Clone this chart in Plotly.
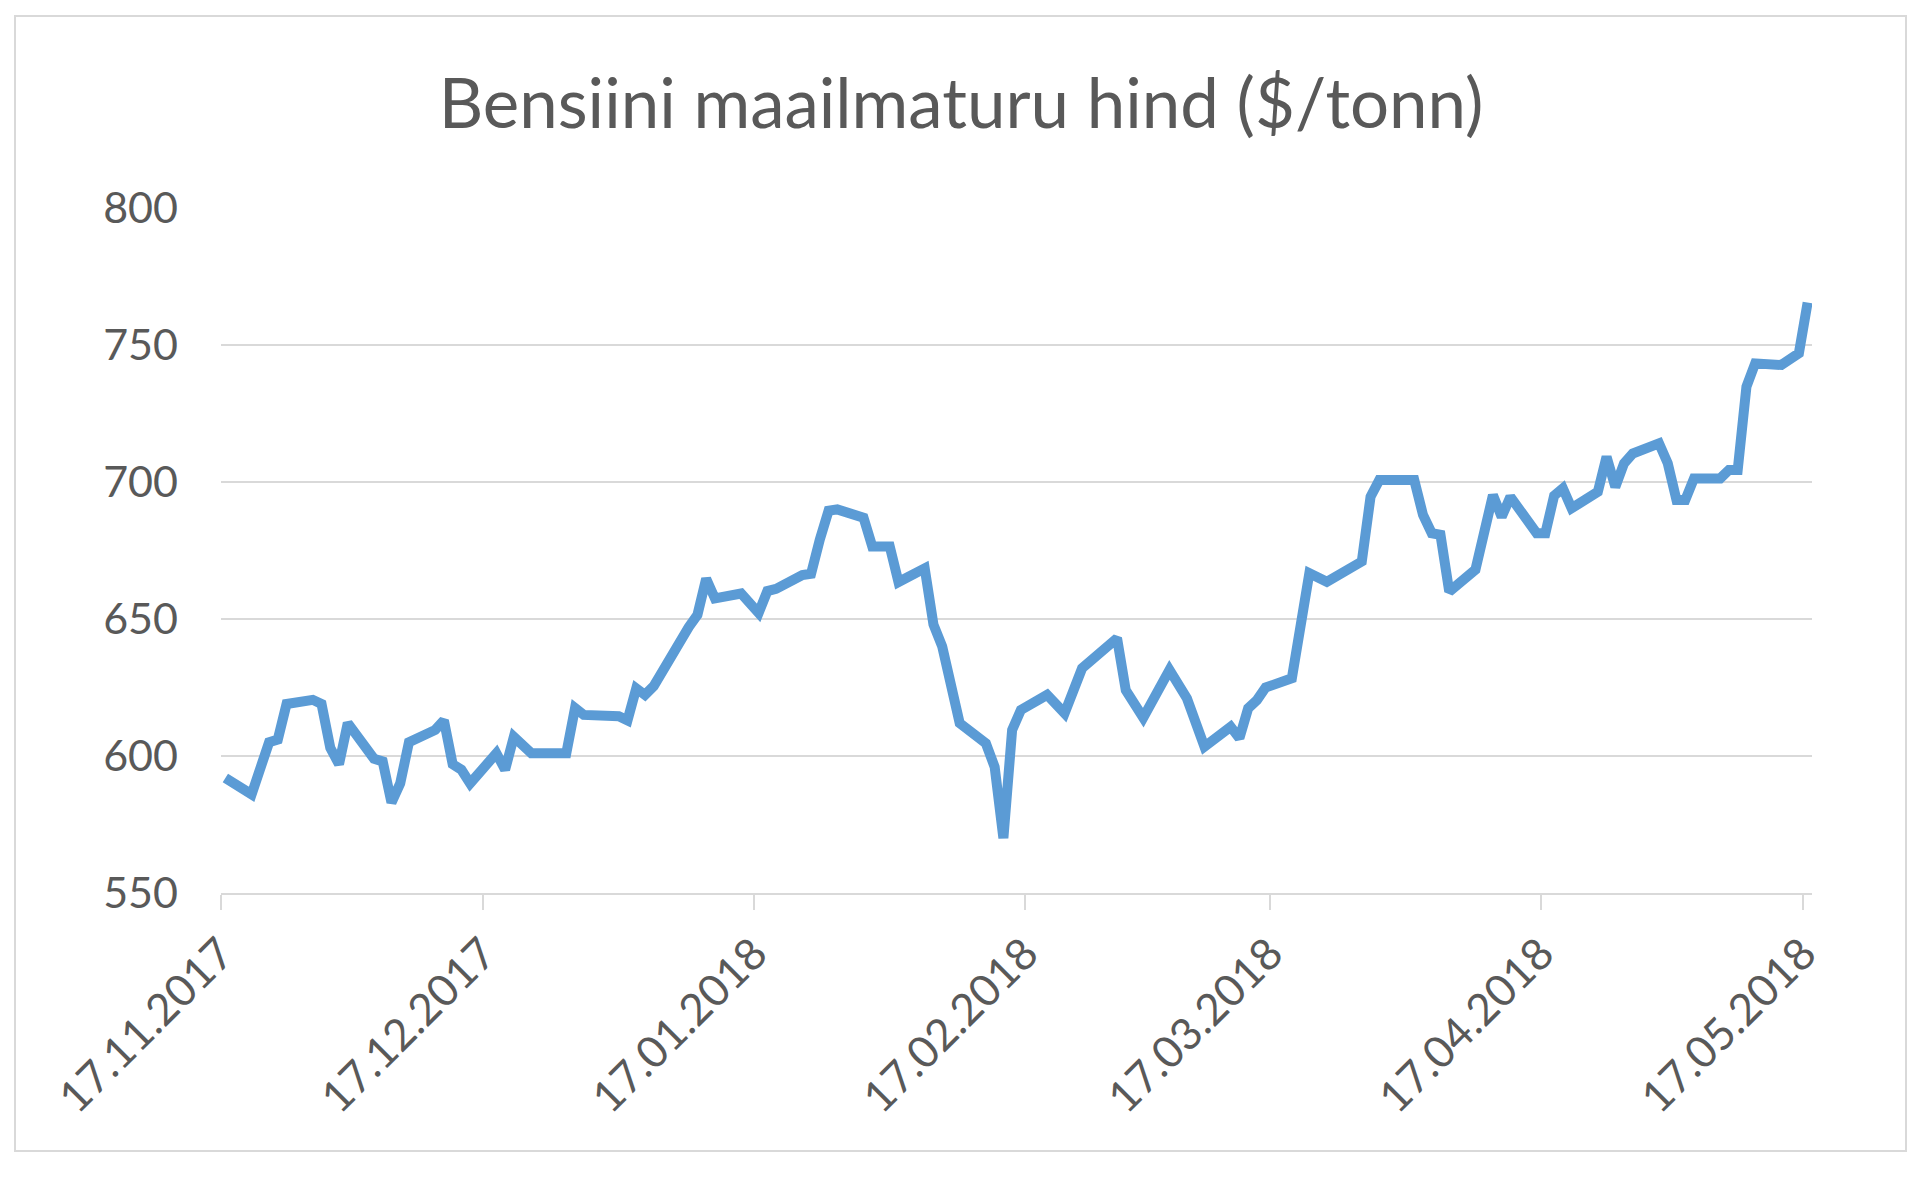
import pandas as pd
import plotly.graph_objects as go

# Dates of visible vertices and prices ($/tonn)
dates = [
    "2017-11-17", "2017-11-20", "2017-11-22", "2017-11-23", "2017-11-24", "2017-11-27",
    "2017-11-28", "2017-11-29", "2017-11-30", "2017-12-01", "2017-12-04", "2017-12-05",
    "2017-12-06", "2017-12-07", "2017-12-08", "2017-12-11", "2017-12-12", "2017-12-13",
    "2017-12-14", "2017-12-15", "2017-12-18", "2017-12-19", "2017-12-20", "2017-12-21",
    "2017-12-22", "2017-12-26", "2017-12-27", "2017-12-28", "2018-01-01", "2018-01-02",
    "2018-01-03", "2018-01-04", "2018-01-05", "2018-01-09", "2018-01-10", "2018-01-11",
    "2018-01-12", "2018-01-15", "2018-01-17", "2018-01-18", "2018-01-19", "2018-01-22",
    "2018-01-23", "2018-01-24", "2018-01-25", "2018-01-26", "2018-01-29", "2018-01-30",
    "2018-02-01", "2018-02-02", "2018-02-05", "2018-02-06", "2018-02-07", "2018-02-09",
    "2018-02-12", "2018-02-13", "2018-02-14", "2018-02-15", "2018-02-16", "2018-02-19",
    "2018-02-21", "2018-02-23", "2018-02-27", "2018-02-28", "2018-03-02", "2018-03-05",
    "2018-03-07", "2018-03-09", "2018-03-12", "2018-03-13", "2018-03-14", "2018-03-15",
    "2018-03-16", "2018-03-19", "2018-03-21", "2018-03-23", "2018-03-27", "2018-03-28",
    "2018-03-29", "2018-04-02", "2018-04-03", "2018-04-04", "2018-04-05", "2018-04-06",
    "2018-04-09", "2018-04-11", "2018-04-12", "2018-04-13", "2018-04-16", "2018-04-17",
    "2018-04-18", "2018-04-19", "2018-04-20", "2018-04-23", "2018-04-24", "2018-04-25",
    "2018-04-26", "2018-04-27", "2018-04-30", "2018-05-01", "2018-05-02", "2018-05-03",
    "2018-05-04", "2018-05-07", "2018-05-08", "2018-05-09", "2018-05-10", "2018-05-11",
    "2018-05-14", "2018-05-16", "2018-05-17",
]
prices = [
    592, 586, 605, 606, 619, 620.5,
    619, 603, 597, 612, 599, 598,
    583, 590, 605, 609.5, 613, 597,
    595, 590, 601, 595, 607, 604.5,
    601, 601, 617.5, 615, 614.5, 613,
    624.7, 622.3, 625.5, 647, 651.5, 664.7,
    657.5, 659.3, 652.2, 660.2, 661, 666,
    666.5, 679, 689.5, 690, 687, 676.5,
    676.5, 663.5, 668.5, 648, 640, 612,
    604.6, 596, 570, 609.5, 616.8, 622.3,
    615.6, 632, 643, 624, 614, 631.4,
    621, 603.4, 610.7, 606.5, 617.4, 620.4,
    625, 628.4, 666.7, 663.6, 671, 694.6,
    700.7, 700.7, 688, 681.3, 680.7, 660,
    668, 695.2, 687.3, 694.6, 681.3, 681.3,
    695, 697.7, 690.4, 696.4, 709.2, 698.2,
    706.8, 710.4, 714.1, 706.8, 693.4, 693.4,
    701.3, 701.3, 704.4, 704.4, 734.8, 743.3,
    742.7, 747, 765.5,
]

tick_dates = ["2017-11-17", "2017-12-17", "2018-01-17", "2018-02-17",
              "2018-03-17", "2018-04-17", "2018-05-17"]
tick_labels = ["17.11.2017", "17.12.2017", "17.01.2018", "17.02.2018",
               "17.03.2018", "17.04.2018", "17.05.2018"]
y_ticks = [550, 600, 650, 700, 750, 800]

title_text = "Bensiini maailmaturu hind ($/tonn)"

# Points sit in the middle of each day slot (date axis, "between tick marks")
x_vals = pd.to_datetime(dates) + pd.Timedelta(hours=12)

W, H = 1920, 1179
OFF = 8  # page body offset
L, T = 221 - OFF, 208 - OFF
pw, ph = 1591, 685
R, B = W - L - pw, H - T - ph

TEXT = "#595959"
GRID = "#D9D9D9"
FONT = "Lato, 'Open Sans', sans-serif"

fig = go.Figure()
fig.add_trace(go.Scatter(
    x=x_vals, y=prices, mode="lines",
    line=dict(color="#5B9BD5", width=10, shape="linear"),
    showlegend=False, hoverinfo="y",
))

# outer chart border (page coordinates converted to paper)
def px_x(p):
    return (p - OFF - L) / pw

def px_y(p):
    return (T + ph - (p - OFF)) / ph

fig.add_shape(type="rect", xref="paper", yref="paper",
              x0=px_x(15), x1=px_x(1906),
              y0=px_y(1151), y1=px_y(16),
              line=dict(color=GRID, width=2), fillcolor="rgba(0,0,0,0)", layer="below")

fig.update_layout(
    width=W, height=H,
    margin=dict(l=L, r=R, t=T, b=B, pad=0),
    paper_bgcolor="white", plot_bgcolor="white",
    font=dict(family=FONT, color=TEXT),
    title=dict(text=title_text, x=(961 - OFF) / W, xref="container", xanchor="center",
               y=1 - (104 - OFF) / H, yref="container", yanchor="middle",
               font=dict(family=FONT, size=69, color=TEXT)),
    xaxis=dict(
        type="date",
        range=["2017-11-17", "2018-05-18"],
        tickvals=tick_dates, ticktext=tick_labels,
        tickangle=-45,
        showgrid=False, zeroline=False,
        showline=True, linecolor=GRID, linewidth=2,
        ticks="outside", ticklen=15, tickwidth=2, tickcolor=GRID,
        tickfont=dict(family=FONT, size=44, color=TEXT),
    ),
    yaxis=dict(
        range=[550, 800],
        tickvals=y_ticks,
        showgrid=True, gridcolor=GRID, gridwidth=2,
        zeroline=False, showline=False,
        ticks="", ticklabelstandoff=42,
        tickfont=dict(family=FONT, size=43, color=TEXT),
    ),
)

fig.write_html("out.html")
